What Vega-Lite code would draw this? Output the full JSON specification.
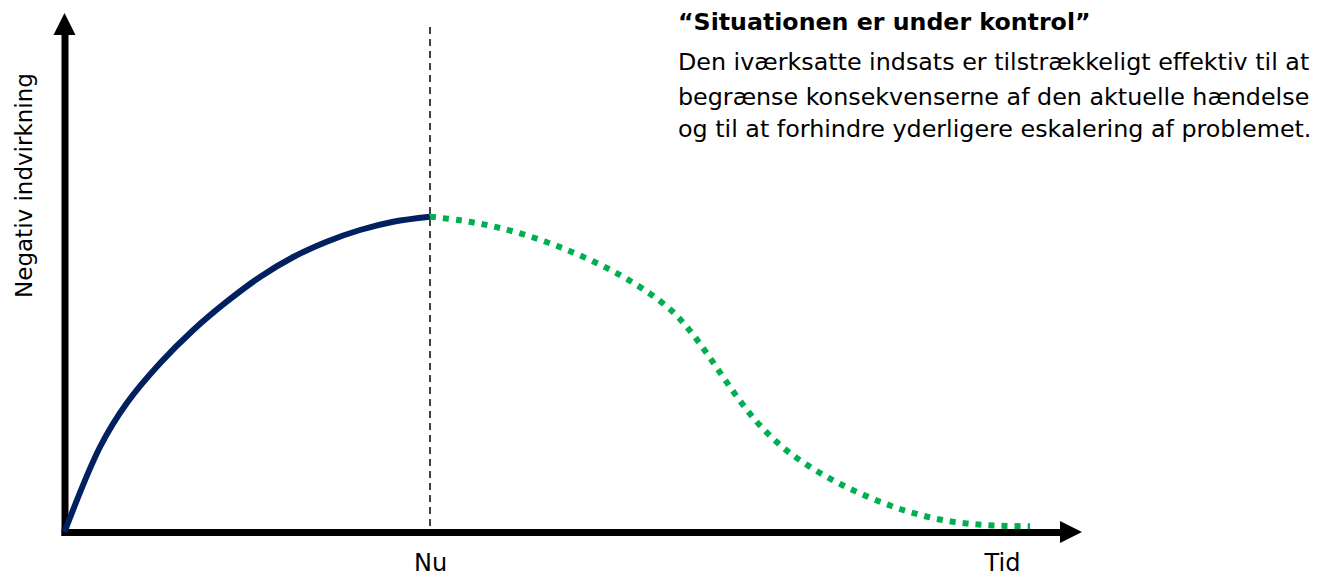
{
  "$schema": "https://vega.github.io/schema/vega-lite/v6.json",
  "width": 997.5,
  "height": 497,
  "autosize": {"type": "none"},
  "padding": {"left": 64.5, "top": 35, "right": 266.5, "bottom": 43},
  "background": "white",
  "config": {"view": {"stroke": null}, "font": "DejaVu Sans"},
  "datasets": {
    "now": [
      {"t": 0, "v": 0}, {"t": 3.55, "v": 8.5}, {"t": 6.22, "v": 12.87},
      {"t": 9.55, "v": 16.87}, {"t": 12.88, "v": 20.2}, {"t": 16.22, "v": 23.03}, {"t": 19.55, "v": 25.5},
      {"t": 22.88, "v": 27.5}, {"t": 26.22, "v": 29.03}, {"t": 29.55, "v": 30.2}, {"t": 32.88, "v": 31.03},
      {"t": 36.55, "v": 31.53}
    ],
    "future": [
      {"t": 36.55, "v": 31.53}, {"t": 39.55, "v": 31.17}, {"t": 42.55, "v": 30.63}, {"t": 45.22, "v": 29.96},
      {"t": 48.05, "v": 29.05}, {"t": 50.72, "v": 28.01}, {"t": 53.55, "v": 26.74}, {"t": 56.05, "v": 25.41},
      {"t": 58.55, "v": 23.83}, {"t": 60.88, "v": 21.97}, {"t": 62.72, "v": 19.91}, {"t": 64.38, "v": 17.65},
      {"t": 66.05, "v": 15.23}, {"t": 67.72, "v": 12.89}, {"t": 69.55, "v": 10.66}, {"t": 71.72, "v": 8.56},
      {"t": 74.05, "v": 6.84}, {"t": 76.55, "v": 5.34}, {"t": 79.05, "v": 4.09}, {"t": 81.88, "v": 2.9},
      {"t": 84.55, "v": 1.99}, {"t": 87.38, "v": 1.28}, {"t": 90.22, "v": 0.85}, {"t": 93.22, "v": 0.64},
      {"t": 96.55, "v": 0.57}
    ],
    "nowline": [{"t": 36.55, "v": 50.5, "v2": 0}],
    "arrows": [{"t": 100.65, "v": 0, "dir": "right"}, {"t": 0, "v": 50.8, "dir": "up"}],
    "heading": [{"t": 61.35, "v": 50.9, "label": "“Situationen er under kontrol”"}],
    "body": [
      {"t": 61.35, "v": 46.9, "label": "Den iværksatte indsats er tilstrækkeligt effektiv til at"},
      {"t": 61.35, "v": 43.4, "label": "begrænse konsekvenserne af den aktuelle hændelse"},
      {"t": 61.35, "v": 40.2, "label": "og til at forhindre yderligere eskalering af problemet."}
    ]
  },
  "encoding": {
    "x": {
      "field": "t", "type": "quantitative",
      "scale": {"domain": [0, 99.75], "nice": false, "zero": false},
      "axis": {
        "values": [36.55, 93.75],
        "labelExpr": "datum.value < 60 ? 'Nu' : 'Tid'",
        "title": null, "grid": false, "ticks": false,
        "domainWidth": 7, "domainColor": "black", "domainCap": "square",
        "labelFontSize": 24, "labelColor": "black", "labelPadding": 19,
        "labelFlush": false, "labelOverlap": false
      }
    },
    "y": {
      "field": "v", "type": "quantitative",
      "scale": {"domain": [0, 49.7], "nice": false, "zero": false},
      "axis": {
        "title": "Negativ indvirkning", "grid": false, "ticks": false, "labels": false,
        "domainWidth": 7, "domainColor": "black", "domainCap": "square",
        "titleFontSize": 23, "titleFontWeight": "normal", "titleColor": "black",
        "titleX": -40.5, "titleY": 150, "titleAngle": -90, "titleAlign": "center", "titleBaseline": "middle"
      }
    }
  },
  "layer": [
    {
      "data": {"name": "nowline"},
      "mark": {"type": "rule", "color": "black", "strokeWidth": 1.5, "strokeDash": [7, 5]},
      "encoding": {"y2": {"field": "v2"}}
    },
    {
      "data": {"name": "now"},
      "mark": {"type": "line", "color": "#002060", "strokeWidth": 6, "interpolate": "catmull-rom", "strokeCap": "butt"}
    },
    {
      "data": {"name": "future"},
      "mark": {"type": "line", "color": "#00B050", "strokeWidth": 6, "strokeDash": [6, 7], "interpolate": "catmull-rom", "strokeCap": "butt"}
    },
    {
      "data": {"name": "arrows"},
      "mark": {"type": "point", "filled": true, "color": "black", "opacity": 1, "size": 484},
      "encoding": {
        "shape": {
          "field": "dir", "type": "nominal", "legend": null,
          "scale": {"domain": ["up", "right"], "range": ["M0,-1L1,1L-1,1Z", "M-1,-1L1,0L-1,1Z"]}
        }
      }
    },
    {
      "data": {"name": "heading"},
      "mark": {"type": "text", "align": "left", "baseline": "middle", "fontSize": 23.7, "fontWeight": "bold", "color": "black"},
      "encoding": {"text": {"field": "label"}}
    },
    {
      "data": {"name": "body"},
      "mark": {"type": "text", "align": "left", "baseline": "middle", "fontSize": 23.8, "color": "black"},
      "encoding": {"text": {"field": "label"}}
    }
  ]
}
